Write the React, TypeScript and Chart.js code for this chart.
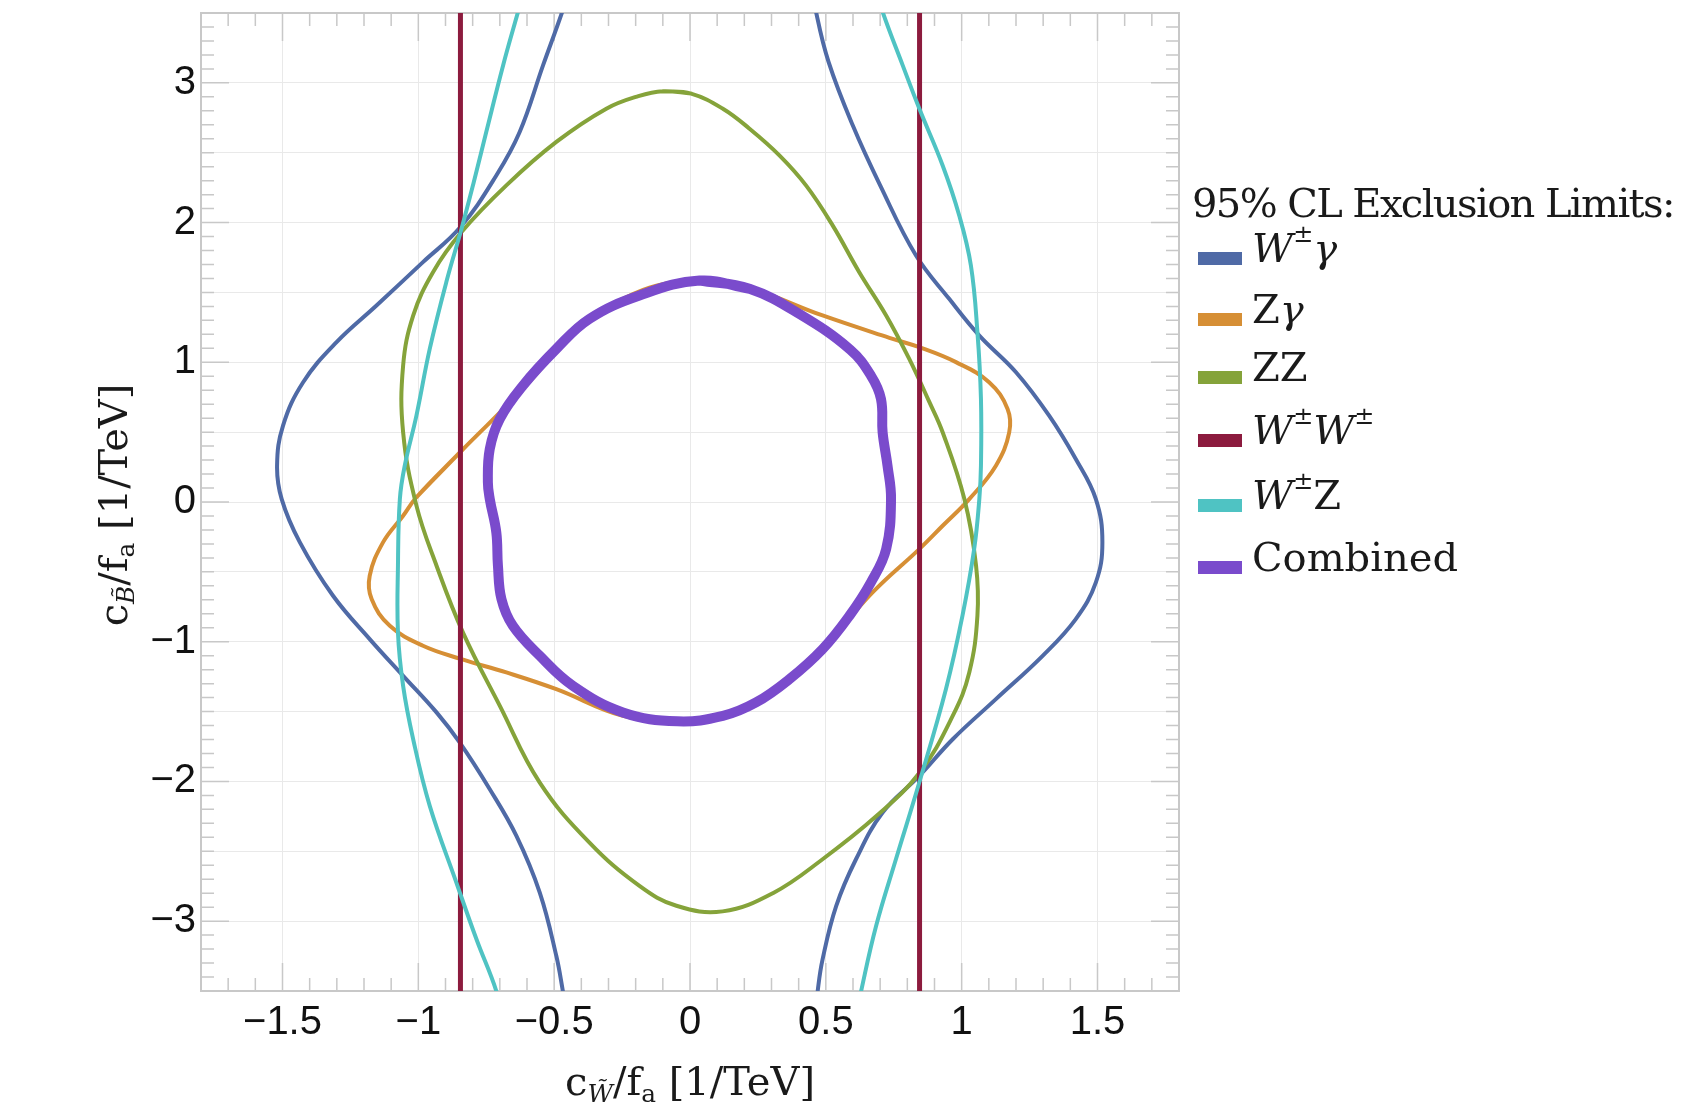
import { useEffect, useRef } from 'react'
import Chart from 'chart.js/auto'

type Pt = [number, number]

// W±γ limit, two open branches (top to bottom)
const wGammaLeft: Pt[] = [
  [-0.44, 3.7], [-0.47, 3.51], [-0.541, 3.125], [-0.627, 2.648], [-0.713, 2.337],
  [-0.845, 1.968], [-0.983, 1.717], [-1.154, 1.406], [-1.301, 1.144], [-1.424, 0.857],
  [-1.498, 0.547], [-1.52, 0.26], [-1.503, 0.021], [-1.436, -0.289], [-1.314, -0.671],
  [-1.179, -0.981], [-1.056, -1.244], [-0.933, -1.506], [-0.848, -1.721], [-0.737, -2.056],
  [-0.639, -2.39], [-0.553, -2.796], [-0.492, -3.25], [-0.468, -3.5], [-0.45, -3.7],
]
const wGammaRight: Pt[] = [
  [0.45, 3.7], [0.464, 3.508], [0.51, 3.15], [0.599, 2.696], [0.7, 2.266],
  [0.832, 1.764], [0.954, 1.454], [1.065, 1.191], [1.2, 0.929], [1.322, 0.618],
  [1.42, 0.308], [1.494, 0.021], [1.518, -0.289], [1.494, -0.575], [1.42, -0.838],
  [1.298, -1.101], [1.126, -1.411], [0.967, -1.698], [0.844, -1.961], [0.709, -2.223],
  [0.611, -2.557], [0.538, -2.892], [0.488, -3.274], [0.47, -3.5], [0.46, -3.7],
]

// Zγ limit, closed
const zGamma: Pt[] = [
  [-1.007, 0.034], [-0.841, 0.367], [-0.615, 0.809], [-0.431, 1.216], [-0.37, 1.311],
  [-0.247, 1.454], [-0.124, 1.549], [0.035, 1.585], [0.219, 1.53], [0.488, 1.335],
  [0.734, 1.175], [0.844, 1.108], [0.979, 1.001], [1.101, 0.857], [1.169, 0.666],
  [1.175, 0.499], [1.126, 0.26], [1.028, 0.021], [0.93, -0.17], [0.844, -0.337],
  [0.672, -0.647], [0.488, -1.053], [0.366, -1.268], [0.243, -1.435], [0.121, -1.531],
  [-0.046, -1.57], [-0.247, -1.531], [-0.492, -1.34], [-0.676, -1.22], [-0.841, -1.125],
  [-0.983, -1.029], [-1.105, -0.886], [-1.172, -0.695], [-1.179, -0.528], [-1.13, -0.289],
  [-1.056, -0.098],
]

// ZZ limit, closed
const zz: Pt[] = [
  [-0.1, 2.94], [0.004, 2.923], [0.121, 2.815], [0.219, 2.672], [0.329, 2.481],
  [0.427, 2.266], [0.525, 1.98], [0.623, 1.645], [0.722, 1.335], [0.807, 1.024],
  [0.88, 0.72], [0.93, 0.499], [1.01, 0.021], [1.053, -0.456], [1.058, -0.814],
  [1.028, -1.22], [0.967, -1.531], [0.844, -1.94], [0.685, -2.25], [0.488, -2.557],
  [0.305, -2.8], [0.12, -2.93], [-0.05, -2.89], [-0.186, -2.748], [-0.37, -2.438],
  [-0.553, -2.008], [-0.7, -1.459], [-0.836, -0.933], [-0.933, -0.456], [-1.007, -0.026],
  [-1.056, 0.499], [-1.056, 0.976], [-1.019, 1.334], [-0.946, 1.645], [-0.841, 1.932],
  [-0.676, 2.266], [-0.492, 2.577], [-0.308, 2.815], [-0.19, 2.905],
]

// W±W± limit, two vertical lines
const wwLeft: Pt[] = [[-0.845, -3.7], [-0.845, 3.7]]
const wwRight: Pt[] = [[0.845, -3.7], [0.845, 3.7]]

// W±Z limit, two open branches (top to bottom)
const wzLeft: Pt[] = [
  [-0.605, 3.7], [-0.633, 3.508], [-0.688, 3.125], [-0.75, 2.648], [-0.799, 2.266],
  [-0.841, 1.956], [-0.897, 1.574], [-0.958, 1.096], [-1.007, 0.618], [-1.05, 0.26],
  [-1.068, 0.021], [-1.075, -0.456], [-1.075, -0.933], [-1.056, -1.316], [-1.019, -1.698],
  [-0.958, -2.175], [-0.86, -2.724], [-0.786, -3.13], [-0.713, -3.5], [-0.69, -3.7],
]
const wzRight: Pt[] = [
  [0.68, 3.7], [0.709, 3.508], [0.783, 3.125], [0.844, 2.816], [0.93, 2.409],
  [0.991, 2.051], [1.034, 1.693], [1.058, 1.216], [1.071, 0.738], [1.071, 0.26],
  [1.065, 0.021], [1.046, -0.337], [1.003, -0.814], [0.942, -1.34], [0.844, -2.008],
  [0.758, -2.557], [0.685, -3.035], [0.63, -3.5], [0.61, -3.7],
]

// Combined limit, closed
const combined: Pt[] = [
  [0.035, 1.585], [0.219, 1.526], [0.403, 1.345], [0.59, 1.09],
  [0.666, 0.905], [0.703, 0.738], [0.709, 0.499], [0.727, 0.26], [0.74, 0.021],
  [0.722, -0.337], [0.666, -0.575], [0.587, -0.814], [0.488, -1.053], [0.366, -1.268],
  [0.243, -1.435], [0.121, -1.531], [-0.046, -1.57], [-0.247, -1.506], [-0.431, -1.316],
  [-0.553, -1.101], [-0.652, -0.886], [-0.694, -0.695], [-0.707, -0.456], [-0.713, -0.217],
  [-0.737, 0.021], [-0.744, 0.141], [-0.737, 0.38], [-0.7, 0.595], [-0.615, 0.833],
  [-0.492, 1.096], [-0.37, 1.311], [-0.186, 1.478],
]

const X_RANGE = [-1.8, 1.8]
const Y_RANGE = [-3.5, 3.5]

const COLORS = {
  wGamma: '#4f6aa6',
  zGamma: '#d68f35',
  zz: '#85a33a',
  ww: '#8c1b3e',
  wz: '#4fc3c3',
  combined: '#7a4bcc',
}

const SERIF = '"DejaVu Serif", serif'

const closeLoop = (pts: Pt[]): Pt[] => [...pts, pts[0], pts[1]]

const fmt = (v: number) => {
  const r = Math.round(v * 10) / 10
  return r < 0 ? '\u2212' + String(-r) : String(r)
}

// light frame with Mathematica-style inward ticks on all four sides
const frameTicks = {
  id: 'frameTicks',
  beforeDatasetsDraw(chart: any) {
    const { ctx, chartArea: a, scales } = chart
    ctx.save()
    ctx.strokeStyle = '#c8c8c8'
    ctx.lineWidth = 1.5
    ctx.beginPath()
    for (let i = -18; i <= 18; i++) {
      const px = scales.x.getPixelForValue(i / 10)
      const len = i % 5 === 0 ? 28 : 13
      ctx.moveTo(px, a.bottom)
      ctx.lineTo(px, a.bottom - len)
      ctx.moveTo(px, a.top)
      ctx.lineTo(px, a.top + len)
    }
    for (let i = -35; i <= 35; i++) {
      const py = scales.y.getPixelForValue(i / 10)
      const len = i % 10 === 0 ? 28 : 13
      ctx.moveTo(a.left, py)
      ctx.lineTo(a.left + len, py)
      ctx.moveTo(a.right, py)
      ctx.lineTo(a.right - len, py)
    }
    ctx.stroke()
    ctx.lineWidth = 2
    ctx.strokeRect(a.left, a.top, a.right - a.left, a.bottom - a.top)
    ctx.restore()
  },
}

function Sup({ children }: { children: any }) {
  return (
    <span style={{ fontSize: '0.6em', position: 'relative', top: '-0.8em', lineHeight: 0 }}>
      {children}
    </span>
  )
}

function Sub({ children }: { children: any }) {
  return (
    <span style={{ fontSize: '0.62em', position: 'relative', top: '0.3em', lineHeight: 0 }}>
      {children}
    </span>
  )
}

const legendRows = [
  { color: COLORS.wGamma, label: <><i>W</i><Sup>±</Sup><i>γ</i></> },
  { color: COLORS.zGamma, label: <>Z<i>γ</i></> },
  { color: COLORS.zz, label: <>ZZ</> },
  { color: COLORS.ww, label: <><i>W</i><Sup>±</Sup><i>W</i><Sup>±</Sup></> },
  { color: COLORS.wz, label: <><i>W</i><Sup>±</Sup>Z</> },
  { color: COLORS.combined, label: <>Combined</> },
]
const legendBaselines = [253.5, 314.5, 372.5, 435.5, 500.5, 562.5]

export default function App() {
  const canvasRef = useRef<HTMLCanvasElement>(null)
  const chartRef = useRef<Chart | null>(null)

  useEffect(() => {
    if (!canvasRef.current) return
    if (chartRef.current) chartRef.current.destroy()

    const series = [
      { pts: [wGammaLeft, wGammaRight], color: COLORS.wGamma, width: 4, loop: false },
      { pts: [zGamma], color: COLORS.zGamma, width: 4, loop: true },
      { pts: [zz], color: COLORS.zz, width: 4, loop: true },
      { pts: [wwLeft, wwRight], color: COLORS.ww, width: 5, loop: false },
      { pts: [wzLeft, wzRight], color: COLORS.wz, width: 4, loop: false },
      { pts: [combined], color: COLORS.combined, width: 10, loop: true },
    ]

    const datasets: any[] = []
    series.forEach((s, i) => {
      s.pts.forEach(p => {
        const src = s.loop ? closeLoop(p) : p
        datasets.push({
          data: src.map(([x, y]) => ({ x, y })),
          showLine: true,
          borderColor: s.color,
          borderWidth: s.width,
          pointRadius: 0,
          pointHoverRadius: 0,
          tension: 0.4,
          fill: false,
          clip: 0,
          borderJoinStyle: 'round',
          borderCapStyle: 'round',
          order: series.length - i,
        })
      })
    })

    chartRef.current = new Chart(canvasRef.current, {
      type: 'scatter',
      data: { datasets },
      plugins: [frameTicks],
      options: {
        responsive: true,
        maintainAspectRatio: false,
        animation: false,
        events: [],
        layout: { padding: { left: 0, top: 5, right: 501, bottom: 0 } },
        elements: { line: { capBezierPoints: false } },
        plugins: { legend: { display: false }, tooltip: { enabled: false } },
        scales: {
          x: {
            type: 'linear',
            min: X_RANGE[0],
            max: X_RANGE[1],
            afterFit: (scale: any) => {
              scale.height = 119
              scale.paddingLeft = 0
              scale.paddingRight = 0
            },
            border: { display: false },
            grid: { color: '#e9e9e9', lineWidth: 1, drawTicks: false },
            ticks: {
              stepSize: 0.5,
              includeBounds: false,
              autoSkip: false,
              maxRotation: 0,
              padding: 8,
              color: '#111',
              font: { family: '"Liberation Sans", Arial, sans-serif', size: 40 },
              callback: (v: any) => fmt(Number(v)),
            },
          },
          y: {
            type: 'linear',
            min: Y_RANGE[0],
            max: Y_RANGE[1],
            afterFit: (scale: any) => {
              scale.width = 193
              scale.paddingTop = 0
              scale.paddingBottom = 0
            },
            border: { display: false },
            grid: { color: '#e9e9e9', lineWidth: 1, drawTicks: false },
            ticks: {
              stepSize: 0.5,
              includeBounds: false,
              autoSkip: false,
              padding: 5,
              color: '#111',
              font: { family: '"Liberation Sans", Arial, sans-serif', size: 40 },
              callback: (v: any) => (Number.isInteger(Math.round(Number(v) * 10) / 10) ? fmt(Number(v)) : ''),
            },
          },
        },
      },
    })

    return () => {
      if (chartRef.current) {
        chartRef.current.destroy()
        chartRef.current = null
      }
    }
  }, [])

  const textBase = {
    position: 'absolute' as const,
    fontFamily: SERIF,
    fontSize: 40,
    lineHeight: '40px',
    height: 40,
    color: '#1a1a1a',
    whiteSpace: 'nowrap' as const,
  }

  return (
    <div style={{ position: 'relative', width: 1672, height: 1102, overflow: 'hidden', background: '#fff' }}>
      <canvas ref={canvasRef} />
      <div style={{ ...textBase, left: -145, top: 477, width: 500, textAlign: 'center', transform: 'rotate(-90deg)' }}>
        c<Sub><i>B̃</i></Sub>/f<Sub>a</Sub> [1/TeV]
      </div>
      <div style={{ ...textBase, left: 382, top: 1053, width: 600, textAlign: 'center' }}>
        c<Sub><i>W̃</i></Sub>/f<Sub>a</Sub> [1/TeV]
      </div>
      <div style={{ ...textBase, left: 1184, top: 175, letterSpacing: '-1.6px' }}>
        95% CL Exclusion Limits:
      </div>
      {legendRows.map((r, i) => (
        <div key={i} style={{ ...textBase, left: 1190, top: legendBaselines[i] - 34 }}>
          <span
            style={{
              display: 'inline-block',
              width: 44,
              height: 13,
              background: r.color,
              verticalAlign: '-3px',
              marginRight: 10,
            }}
          />
          {r.label}
        </div>
      ))}
    </div>
  )
}
